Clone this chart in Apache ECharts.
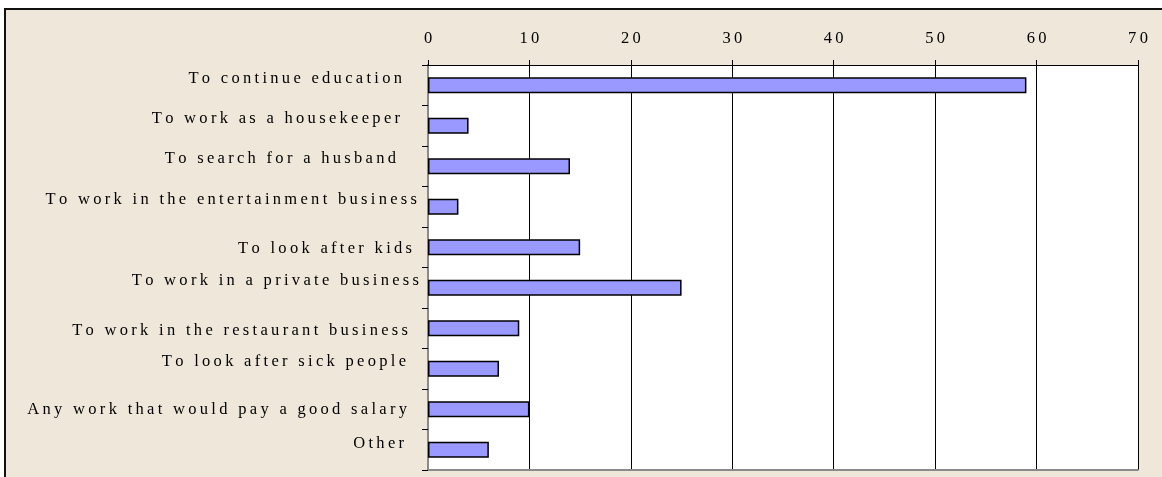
<!DOCTYPE html>
<html>
<head>
<meta charset="utf-8">
<script src="https://cdn.jsdelivr.net/npm/echarts@6/dist/echarts.min.js"></script>
<style>
html,body{margin:0;padding:0;background:#fff;width:1162px;height:477px;overflow:hidden;}
#frame{position:absolute;left:4px;top:8px;width:1200px;height:500px;background:#EFE8DA;border-top:2px solid #111;border-left:2px solid #111;box-sizing:border-box;}
#c{position:absolute;left:0;top:0;width:1162px;height:477px;}
</style>
</head>
<body>
<div id="frame"></div>
<div id="c"></div>
<script>
// ---- data ----
const categories = [
  'To continue education',
  'To work as a housekeeper',
  'To search for a husband',
  'To work in the entertainment business',
  'To look after kids',
  'To work in a private business',
  'To work in the restaurant business',
  'To look after sick people',
  'Any work that would pay a good salary',
  'Other'
];
const values = [59, 4, 14, 3, 15, 25, 9, 7, 10, 6];
const xTicks = { min: 0, max: 70, interval: 10 };

// ---- label layout nudges (layout only) ----
const labelShiftY = [-7, -7, -8, -7, 1, -7, 2, -7, 0, -6];
const labelPadRight = [17, 19, 23, 2, 7, 0, 11, 13, 12, 15];

const FONT = 'Liberation Serif';
const FS = 16.5;
const spaced = s => String(s).split('').join('\u2009');

const rich = {};
categories.forEach((c, i) => {
  const dy = labelShiftY[i];
  rich['r' + i] = {
    fontFamily: FONT, fontSize: FS, color: '#000',
    padding: [Math.max(0, 2 * dy), labelPadRight[i], Math.max(0, -2 * dy), 0]
  };
});

const chart = echarts.init(document.getElementById('c'), null, { renderer: 'canvas' });
chart.setOption({
  backgroundColor: 'transparent',
  animation: false,
  grid: { left: 428, top: 65, right: 24, bottom: 7, show: true, backgroundColor: '#fff', borderWidth: 0 },
  xAxis: [
    {
      type: 'value', position: 'top', min: xTicks.min, max: xTicks.max, interval: xTicks.interval,
      axisLine: { show: true, lineStyle: { color: '#000', width: 1 } },
      axisTick: { show: true, inside: false, length: 5, lineStyle: { color: '#000' } },
      axisLabel: { margin: 18, fontFamily: FONT, fontSize: FS, color: '#000', formatter: v => spaced(v) },
      splitLine: { show: true, lineStyle: { color: '#000', width: 1 } }
    },
    {
      type: 'value', position: 'bottom', min: xTicks.min, max: xTicks.max,
      axisLine: { show: true, lineStyle: { color: '#8a8a8a', width: 2 } },
      axisTick: { show: false }, axisLabel: { show: false }, splitLine: { show: false }
    }
  ],
  yAxis: [
    {
      type: 'category', inverse: true, data: categories, position: 'left',
      axisLine: { show: true, lineStyle: { color: '#000', width: 1.5 } },
      axisTick: { show: true, inside: false, length: 6, lineStyle: { color: '#000' } },
      axisLabel: {
        margin: 9, interval: 0,
        formatter: (v, i) => '{r' + i + '|' + spaced(v) + '}',
        rich: rich
      },
      splitLine: { show: false }
    },
    {
      type: 'category', inverse: true, data: categories, position: 'right',
      axisLine: { show: true, lineStyle: { color: '#8a8a8a', width: 2 } },
      axisTick: { show: false }, axisLabel: { show: false }, splitLine: { show: false }
    }
  ],
  series: [{
    type: 'bar', xAxisIndex: 0, yAxisIndex: 0,
    data: values, barWidth: 16,
    itemStyle: { color: '#9999FF', borderColor: '#000', borderWidth: 1.5 }
  }]
});
</script>
</body>
</html>
